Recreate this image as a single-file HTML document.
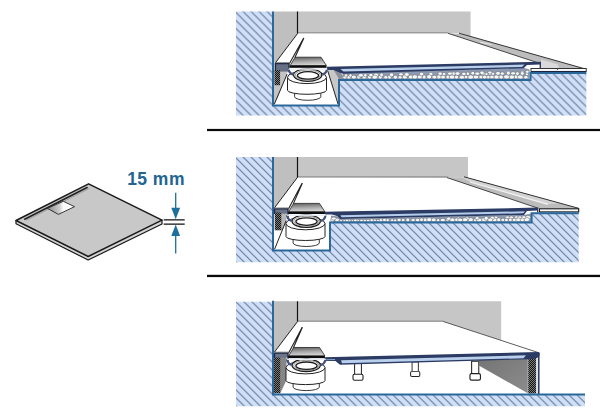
<!DOCTYPE html>
<html><head><meta charset="utf-8">
<style>
html,body{margin:0;padding:0;background:#fff;}
svg{display:block}
text{font-family:"Liberation Sans",Arial,sans-serif;font-weight:bold}
</style></head><body>
<svg width="600" height="417" viewBox="0 0 600 417">
<defs>
<pattern id="h1" width="8" height="8" patternUnits="userSpaceOnUse" patternTransform="translate(-0.4,0)">
<rect width="8" height="8" fill="#cfdff7"/>
<path d="M-1,-1 L9,9 M-1,7 L1,9 M7,-1 L9,1" stroke="#6e7f9f" stroke-width="1.2"/></pattern><pattern id="h2" width="8" height="8" patternUnits="userSpaceOnUse" patternTransform="translate(-1.9,0)">
<rect width="8" height="8" fill="#cfdff7"/>
<path d="M-1,-1 L9,9 M-1,7 L1,9 M7,-1 L9,1" stroke="#6e7f9f" stroke-width="1.2"/></pattern><pattern id="h3" width="8" height="8" patternUnits="userSpaceOnUse" patternTransform="translate(-1.8,0)">
<rect width="8" height="8" fill="#cfdff7"/>
<path d="M-1,-1 L9,9 M-1,7 L1,9 M7,-1 L9,1" stroke="#6e7f9f" stroke-width="1.2"/></pattern>
<pattern id="mesh" width="2" height="2" patternUnits="userSpaceOnUse">
<rect width="2" height="2" fill="#151515"/><circle cx="0.5" cy="0.5" r="0.45" fill="#e8e8e8"/><circle cx="1.5" cy="1.5" r="0.45" fill="#e8e8e8"/>
</pattern>
<linearGradient id="covv" x1="0" x2="0.15" y1="0" y2="1">
<stop offset="0" stop-color="#5c5c5c"/><stop offset="0.55" stop-color="#a8a8a8"/><stop offset="1" stop-color="#d6d6d6"/>
</linearGradient>
<linearGradient id="apr" x1="0" x2="1" y1="0" y2="1">
<stop offset="0" stop-color="#747474"/><stop offset="1" stop-color="#8c8c8c"/>
</linearGradient>
<linearGradient id="hole" x1="0" x2="1" y1="0" y2="0">
<stop offset="0" stop-color="#8a8a8a"/><stop offset="0.45" stop-color="#cdcdcd"/><stop offset="0.58" stop-color="#fafafa"/><stop offset="1" stop-color="#fff"/>
</linearGradient>
<g id="drain">
<path d="M294.6,90 V96.8 A13.1,3.5 0 0 0 320.8,96.8 V90 Z" fill="#fff" stroke="#222" stroke-width="0.9"/>
<path d="M287.5,77.5 V90.3 A19.5,4 0 0 0 326.5,90.3 V77.5 Z" fill="#fff" stroke="#222" stroke-width="1"/>
<ellipse cx="307" cy="77.3" rx="19.5" ry="6.3" fill="#fff" stroke="#222" stroke-width="1"/>
<ellipse cx="307.7" cy="75" rx="14.1" ry="6.3" fill="#fff" stroke="#1a1a1a" stroke-width="1.2"/>
<ellipse cx="307.8" cy="75.1" rx="12.6" ry="5.1" fill="#fff" stroke="#555" stroke-width="0.6"/>
<ellipse cx="308" cy="75.4" rx="10.6" ry="3.7" fill="#fff" stroke="#1a1a1a" stroke-width="1.3"/>
<path d="M288.8,69 v1.2 q0.8,3.4 4.6,4.6 M326.8,69 v1.2 q-0.8,3.4 -4.6,4.6" stroke="#44547c" stroke-width="2.2" fill="none"/>
<rect x="288.6" y="68.3" width="38.6" height="1.4" fill="#e8eef6"/>
<polygon points="295,57.2 321,57.2 326.4,65.6 290.2,65.6" fill="url(#covv)" stroke="#222" stroke-width="0.8" stroke-linejoin="round"/>
<rect x="289.6" y="65.5" width="36.8" height="2.3" fill="#0c0c0c"/>
</g>
<g id="foot">
<rect x="-3.4" y="0" width="6.8" height="12" fill="#fff" stroke="#222" stroke-width="1"/>
<rect x="-5" y="11" width="10" height="6" rx="1.5" fill="#fff" stroke="#222" stroke-width="1.1"/>
</g>
</defs>
<rect width="600" height="417" fill="#fff"/>
<rect x="207" y="128.9" width="393" height="2.2" fill="#0a0a0a"/>
<rect x="207" y="274.8" width="393" height="2.3" fill="#0a0a0a"/>
<g id="p1">
<polygon points="236,11.5 273,11.5 273,105.6 339,105.6 339,80 530.5,80 530.5,73 586.3,73 586.3,115.5 236,115.5" fill="url(#h1)"/>
<polygon points="273.5,11.5 297.5,11.5 297.5,33.6 275.5,62.7 273.5,62.7" fill="#bfbfbf"/>
<polygon points="297.5,11.5 470.6,11.5 470.6,36.6 461,33.3 297.5,33.3" fill="#c6c6c6"/>
<rect x="297.5" y="32.3" width="150.5" height="1" fill="#8a8a8a"/>
<line x1="297.5" y1="11.5" x2="297.5" y2="33.6" stroke="#111" stroke-width="1.2"/>
<polygon points="280,63 290,63 287,74 278,97 274,104.6 274,63" fill="#c4c4c4"/>
<polygon points="327.6,70 334,70 339,79.2 339,104 336,98" fill="#c8c8c8"/>
<polygon points="333.7,70 340,70 343.5,78.7 339,79.5" fill="#8a8f98"/>
<path d="M287.1,74.1 L274.3,104.2 M327.8,71 L338,104" stroke="#222" stroke-width="1" fill="none"/>
<!-- tile strip -->
<polygon points="448,33.3 461.8,34 585.5,69 541,69 540.5,63.6" fill="#bdbdbd"/>
<polygon points="541,59.5 558,64.5 559,68.8 541,68.8" fill="#dadada"/>
<polygon points="481,42 492,44.2 491,44.8 480,42.8" fill="#f0f0f0"/>
<line x1="459" y1="33.2" x2="585.5" y2="69" stroke="#333" stroke-width="1"/>
<line x1="448" y1="33.3" x2="540.5" y2="63.6" stroke="#333" stroke-width="0.9"/>
<rect x="531" y="68.5" width="55.2" height="2.9" fill="#fff" stroke="#222" stroke-width="0.9"/><path d="M531,71.5 H586.2" stroke="#1b2540" stroke-width="1.1"/><path d="M557.6,68.5 v1.5" stroke="#333" stroke-width="0.8"/>
<!-- mortar -->
<path d="M343,73 L523,67.5 L529.5,69.5 V79 H341 Z" fill="#8d99b0"/>
<g fill="#f6f6f4" stroke="#5f6672" stroke-width="0.5"><ellipse cx="348.8" cy="77.3" rx="2.2" ry="1.8"/><ellipse cx="404.9" cy="76.9" rx="2.5" ry="2.1"/><ellipse cx="470.7" cy="77.0" rx="3.0" ry="2.1"/><ellipse cx="463.9" cy="73.9" rx="2.3" ry="1.7"/><ellipse cx="410.8" cy="77.0" rx="2.6" ry="1.9"/><ellipse cx="430.8" cy="74.1" rx="2.2" ry="1.8"/><ellipse cx="424.1" cy="77.0" rx="2.0" ry="2.0"/><ellipse cx="525.9" cy="77.2" rx="2.2" ry="1.7"/><ellipse cx="350.5" cy="75.4" rx="1.7" ry="1.6"/><ellipse cx="414.9" cy="76.9" rx="2.7" ry="2.1"/><ellipse cx="389.6" cy="77.1" rx="2.0" ry="2.0"/><ellipse cx="466.0" cy="77.0" rx="1.9" ry="1.8"/><ellipse cx="453.4" cy="73.6" rx="2.6" ry="1.7"/><ellipse cx="516.1" cy="76.8" rx="2.1" ry="2.0"/><ellipse cx="502.2" cy="73.6" rx="2.2" ry="1.7"/><ellipse cx="457.5" cy="73.6" rx="2.5" ry="1.8"/><ellipse cx="345.0" cy="77.2" rx="2.1" ry="1.8"/><ellipse cx="461.9" cy="77.2" rx="2.7" ry="1.9"/><ellipse cx="520.2" cy="77.0" rx="2.9" ry="2.0"/><ellipse cx="406.8" cy="74.5" rx="2.4" ry="1.9"/><ellipse cx="447.9" cy="77.0" rx="2.0" ry="1.9"/><ellipse cx="353.8" cy="77.1" rx="2.5" ry="1.9"/><ellipse cx="385.8" cy="77.3" rx="2.1" ry="1.7"/><ellipse cx="496.5" cy="76.9" rx="2.8" ry="2.0"/><ellipse cx="364.3" cy="77.2" rx="2.3" ry="1.8"/><ellipse cx="481.1" cy="77.0" rx="2.3" ry="1.8"/><ellipse cx="456.5" cy="77.1" rx="2.2" ry="1.9"/><ellipse cx="358.8" cy="77.0" rx="2.0" ry="1.9"/><ellipse cx="492.9" cy="73.8" rx="1.8" ry="1.6"/><ellipse cx="483.0" cy="73.7" rx="2.5" ry="1.8"/><ellipse cx="419.8" cy="76.9" rx="2.5" ry="1.9"/><ellipse cx="489.8" cy="73.9" rx="1.8" ry="1.5"/><ellipse cx="449.9" cy="73.6" rx="2.5" ry="1.6"/><ellipse cx="346.0" cy="75.5" rx="1.6" ry="1.7"/><ellipse cx="522.2" cy="72.2" rx="1.9" ry="1.9"/><ellipse cx="380.3" cy="77.1" rx="2.1" ry="1.9"/><ellipse cx="511.9" cy="77.0" rx="2.7" ry="2.1"/><ellipse cx="488.3" cy="77.1" rx="2.6" ry="1.7"/><ellipse cx="421.6" cy="74.1" rx="2.2" ry="1.8"/><ellipse cx="395.4" cy="77.2" rx="2.2" ry="1.9"/><ellipse cx="444.0" cy="74.1" rx="1.9" ry="1.7"/><ellipse cx="381.6" cy="74.9" rx="1.8" ry="1.9"/><ellipse cx="517.4" cy="73.6" rx="1.8" ry="1.9"/><ellipse cx="440.1" cy="73.8" rx="2.2" ry="1.9"/><ellipse cx="506.6" cy="76.8" rx="3.0" ry="2.1"/><ellipse cx="498.0" cy="73.3" rx="2.3" ry="1.9"/><ellipse cx="376.0" cy="75.1" rx="2.6" ry="2.0"/><ellipse cx="391.6" cy="74.8" rx="2.1" ry="2.0"/><ellipse cx="365.3" cy="75.2" rx="1.8" ry="1.6"/><ellipse cx="374.8" cy="77.1" rx="2.8" ry="2.0"/><ellipse cx="472.8" cy="73.2" rx="2.0" ry="1.8"/><ellipse cx="452.0" cy="77.0" rx="2.8" ry="2.0"/><ellipse cx="429.2" cy="76.8" rx="2.6" ry="2.1"/><ellipse cx="442.9" cy="77.1" rx="2.6" ry="1.8"/><ellipse cx="467.9" cy="73.8" rx="1.7" ry="1.8"/><ellipse cx="522.3" cy="73.4" rx="1.9" ry="1.9"/><ellipse cx="476.0" cy="77.0" rx="2.8" ry="1.9"/><ellipse cx="438.9" cy="76.9" rx="2.2" ry="2.0"/><ellipse cx="360.8" cy="75.3" rx="2.6" ry="1.8"/><ellipse cx="527.0" cy="74.1" rx="1.7" ry="1.6"/><ellipse cx="369.5" cy="77.1" rx="2.1" ry="1.9"/><ellipse cx="489.9" cy="72.5" rx="2.1" ry="1.5"/><ellipse cx="491.9" cy="77.0" rx="2.3" ry="1.8"/><ellipse cx="482.0" cy="72.8" rx="2.2" ry="1.8"/><ellipse cx="400.1" cy="77.2" rx="2.0" ry="1.7"/><ellipse cx="501.1" cy="77.0" rx="2.2" ry="2.0"/><ellipse cx="513.1" cy="73.3" rx="2.5" ry="1.6"/><ellipse cx="527.2" cy="71.7" rx="1.8" ry="1.5"/><ellipse cx="401.0" cy="74.3" rx="2.3" ry="1.5"/><ellipse cx="484.6" cy="77.1" rx="2.3" ry="1.8"/><ellipse cx="434.4" cy="77.1" rx="2.5" ry="1.8"/><ellipse cx="508.3" cy="73.1" rx="2.0" ry="2.0"/><ellipse cx="477.3" cy="73.6" rx="2.5" ry="1.7"/><ellipse cx="370.9" cy="75.1" rx="2.2" ry="1.7"/><ellipse cx="486.5" cy="74.0" rx="1.6" ry="1.5"/></g>
<!-- tray -->
<polygon points="326.7,66.7 541,61.8 541,68.6 539.6,68.6 539.6,64.6 527,64.9 523.5,68.2 343,73.7 340,72.8 333.6,70 326.7,70" fill="#2b3b64"/>
<polygon points="340.5,69.1 524.5,64.6 522,66.9 343.5,71.5" fill="#b9d0ec"/>
<path d="M273,11.5 V105.6 H339 V80 H530.5 V73 H586.3" fill="none" stroke="#2a689c" stroke-width="2"/>
<path d="M297.5,33.6 L275.5,62.7" stroke="#222" stroke-width="1"/>
<path d="M303.7,38 L289.6,63.2 M303.9,38 L294.9,57.4" stroke="#222" stroke-width="1.1"/>
<rect x="275.5" y="63.4" width="13.5" height="8.2" fill="#666f84"/><path d="M275.5,71 V63.6 H289 V71.6" fill="none" stroke="#1b2745" stroke-width="1.3"/><path d="M275.5,62.7 H289.5" stroke="#555" stroke-width="0.8"/>
<rect x="274.5" y="70" width="5.6" height="15.2" fill="url(#mesh)"/>
<use href="#drain"/>
</g>
<g id="p2">
<polygon points="236,157 273,157 273,250.6 330,250.6 330,222.5 532,222.5 532,213.3 578.7,213.3 578.7,262.2 236,262.2" fill="url(#h2)"/>
<polygon points="273.5,157 297.7,157 297.7,177 274.5,207.8 273.5,207.8" fill="#bfbfbf"/>
<polygon points="297.5,157 468,157 468,177.8 297.5,177.3" fill="#c6c6c6"/>
<rect x="297.5" y="176.5" width="150" height="0.9" fill="#777"/>
<line x1="297.5" y1="157" x2="297.5" y2="177.2" stroke="#111" stroke-width="1.2"/>
<polygon points="281,208.5 288.5,208.5 286,221 282.4,230.4 281,230.4" fill="#b8b8b8"/>
<path d="M286.2,220.5 L274.5,249.4" stroke="#222" stroke-width="1" fill="none"/>
<!-- tile strip -->
<polygon points="447,177.5 468,177.8 578.7,208.3 538.4,208.3" fill="#bcbcbc"/>
<polygon points="462,177.7 468,177.8 560,203.2 548,204.3 470,182" fill="#d3d3d3"/>
<line x1="464" y1="176.8" x2="578.7" y2="208.3" stroke="#333" stroke-width="1"/>
<line x1="447" y1="177.6" x2="538.4" y2="208.3" stroke="#333" stroke-width="0.9"/>
<line x1="470" y1="182" x2="548" y2="204.3" stroke="#f4f4f4" stroke-width="1.3"/>
<rect x="539.4" y="208.8" width="39.3" height="3.1" fill="#fff" stroke="#111" stroke-width="1.1"/>
<!-- mortar -->
<path d="M331,215.5 L337,216.2 L340,219 L524,215 L531,213.5 V222 H331 Z" fill="#8d99b0"/>
<g fill="#f6f6f4" stroke="#5f6672" stroke-width="0.5"><ellipse cx="337.0" cy="219.9" rx="2.3" ry="1.9"/><ellipse cx="332.5" cy="220.1" rx="1.9" ry="1.8"/><ellipse cx="333.7" cy="218.6" rx="2.5" ry="1.5"/></g>
<g fill="#f6f6f4" stroke="#5f6672" stroke-width="0.5"><ellipse cx="516.7" cy="217.4" rx="2.2" ry="1.6"/><ellipse cx="378.1" cy="220.5" rx="1.5" ry="1.3"/><ellipse cx="357.9" cy="220.4" rx="1.3" ry="1.3"/><ellipse cx="384.7" cy="220.0" rx="2.4" ry="1.6"/><ellipse cx="425.3" cy="219.9" rx="2.1" ry="2.0"/><ellipse cx="413.1" cy="220.1" rx="2.1" ry="1.6"/><ellipse cx="374.8" cy="220.3" rx="1.5" ry="1.3"/><ellipse cx="495.8" cy="217.9" rx="2.2" ry="1.8"/><ellipse cx="507.6" cy="217.4" rx="2.3" ry="1.4"/><ellipse cx="470.4" cy="219.7" rx="2.9" ry="2.0"/><ellipse cx="438.1" cy="220.2" rx="1.7" ry="1.7"/><ellipse cx="484.4" cy="219.8" rx="3.0" ry="2.0"/><ellipse cx="380.9" cy="220.2" rx="1.8" ry="1.6"/><ellipse cx="355.3" cy="220.4" rx="1.8" ry="1.3"/><ellipse cx="514.7" cy="220.0" rx="2.7" ry="1.8"/><ellipse cx="417.7" cy="220.1" rx="2.3" ry="1.8"/><ellipse cx="494.6" cy="219.9" rx="2.6" ry="1.9"/><ellipse cx="371.7" cy="220.2" rx="1.8" ry="1.5"/><ellipse cx="511.3" cy="217.4" rx="2.2" ry="1.5"/><ellipse cx="433.7" cy="219.9" rx="2.4" ry="1.9"/><ellipse cx="458.3" cy="218.7" rx="2.1" ry="1.6"/><ellipse cx="352.3" cy="220.6" rx="1.2" ry="1.1"/><ellipse cx="492.2" cy="218.0" rx="2.2" ry="1.8"/><ellipse cx="349.4" cy="220.5" rx="1.5" ry="1.2"/><ellipse cx="421.6" cy="219.8" rx="1.9" ry="1.8"/><ellipse cx="447.5" cy="220.0" rx="1.9" ry="1.7"/><ellipse cx="528.0" cy="217.4" rx="2.9" ry="1.9"/><ellipse cx="392.1" cy="220.2" rx="1.6" ry="1.5"/><ellipse cx="475.3" cy="220.1" rx="1.9" ry="1.7"/><ellipse cx="526.5" cy="219.6" rx="3.1" ry="2.1"/><ellipse cx="467.0" cy="218.6" rx="2.1" ry="1.8"/><ellipse cx="456.5" cy="219.8" rx="2.2" ry="1.8"/><ellipse cx="502.9" cy="219.9" rx="2.0" ry="1.7"/><ellipse cx="519.9" cy="217.4" rx="2.6" ry="1.5"/><ellipse cx="479.0" cy="219.9" rx="2.8" ry="2.0"/><ellipse cx="523.8" cy="217.3" rx="2.1" ry="1.6"/><ellipse cx="510.3" cy="219.9" rx="1.9" ry="1.8"/><ellipse cx="498.7" cy="219.8" rx="2.0" ry="2.0"/><ellipse cx="490.2" cy="219.9" rx="2.6" ry="1.9"/><ellipse cx="506.4" cy="220.0" rx="2.0" ry="1.7"/><ellipse cx="395.1" cy="220.4" rx="1.7" ry="1.5"/><ellipse cx="465.0" cy="219.8" rx="2.7" ry="2.0"/><ellipse cx="460.2" cy="220.0" rx="2.6" ry="1.8"/><ellipse cx="518.5" cy="219.8" rx="2.9" ry="1.9"/><ellipse cx="341.0" cy="220.7" rx="1.6" ry="1.1"/><ellipse cx="429.2" cy="219.7" rx="2.5" ry="2.1"/><ellipse cx="364.8" cy="220.6" rx="1.6" ry="1.3"/><ellipse cx="346.9" cy="220.5" rx="1.8" ry="1.3"/><ellipse cx="522.3" cy="219.9" rx="2.1" ry="1.9"/><ellipse cx="387.7" cy="220.2" rx="1.6" ry="1.6"/><ellipse cx="442.8" cy="220.1" rx="2.6" ry="1.7"/><ellipse cx="477.1" cy="218.1" rx="2.1" ry="1.6"/><ellipse cx="486.2" cy="218.3" rx="2.0" ry="2.0"/><ellipse cx="361.5" cy="220.5" rx="1.8" ry="1.2"/><ellipse cx="344.2" cy="220.7" rx="1.2" ry="1.2"/><ellipse cx="448.9" cy="218.8" rx="2.4" ry="1.7"/><ellipse cx="368.1" cy="220.6" rx="1.7" ry="1.3"/><ellipse cx="399.1" cy="220.1" rx="2.1" ry="1.8"/><ellipse cx="452.4" cy="219.9" rx="2.6" ry="1.9"/><ellipse cx="403.2" cy="220.1" rx="1.8" ry="1.7"/><ellipse cx="407.8" cy="220.0" rx="1.9" ry="1.9"/></g>
<!-- tray -->
<polygon points="324.7,211.8 538.2,207.6 538.2,212.4 537,212.4 537,210.6 527,210.9 524,214.9 340,218.9 337,216 332,214.4 324.7,214.4" fill="#2b3b64"/>
<polygon points="340.5,215.2 525,211.3 523.2,213.3 341.5,217.3" fill="#b4cdea"/>
<path d="M273,157 V250.6 H330 V222.6 H531.6 V213.2 H578.7" fill="none" stroke="#2a689c" stroke-width="2"/>
<path d="M297.7,177 L274.5,207.8" stroke="#222" stroke-width="1"/>
<path d="M302.2,183.1 L288.6,208.8 M302.4,183.1 L293.4,203.6" stroke="#222" stroke-width="1.1"/>
<rect x="274.5" y="208.7" width="13.5" height="5" fill="#6b7488"/><path d="M274.5,214 V208.9 H288 V219" fill="none" stroke="#1b2745" stroke-width="1.3"/><path d="M274.5,208 H288.5" stroke="#555" stroke-width="0.8"/>
<rect x="274.7" y="212.5" width="6.6" height="17.8" fill="url(#mesh)"/>
<use href="#drain" transform="translate(-1.5,146.2)"/>
</g>
<g id="p3">
<polygon points="236,301.7 273,301.7 273,394.5 585,394.5 585,406.2 236,406.2" fill="url(#h3)"/>
<polygon points="273.5,301.3 297.7,301.3 297.7,321.3 274.5,352 273.5,352" fill="#bfbfbf"/>
<polygon points="297.5,301.3 501.2,301.3 501.2,340.2 443.3,321.5 297.5,321.5" fill="#c6c6c6"/>
<rect x="297.5" y="320.7" width="146" height="0.9" fill="#777"/>
<line x1="297.5" y1="301.3" x2="297.5" y2="321.4" stroke="#111" stroke-width="1.2"/>
<line x1="443.3" y1="321.5" x2="539" y2="352.8" stroke="#333" stroke-width="0.8"/>
<!-- left bracket -->
<polygon points="280,353 286.5,353 286.5,380 280.2,393.5" fill="#868686"/>
<rect x="274" y="354.8" width="6.3" height="38.6" fill="url(#mesh)"/>
<!-- feet -->
<use href="#foot" transform="translate(358,363.2)"/>
<use href="#foot" transform="translate(415.2,362) scale(0.92,0.85)"/>
<use href="#foot" transform="translate(475.2,361.2) scale(1.05,1.12)"/>
<!-- apron right -->
<polygon points="478.8,359 527.8,357.4 527.8,393.2 478.8,365.5" fill="url(#apr)"/>
<rect x="528.2" y="357" width="8" height="36.5" fill="url(#mesh)"/>
<line x1="538.7" y1="353" x2="538.7" y2="394" stroke="#2b3b64" stroke-width="1.7"/>
<!-- tray -->
<polygon points="324.5,357.2 538,352.1 539.6,352.6 539.6,355.4 537,358 530,359.2 340,364.8 335.5,361 324.5,361" fill="#2b3b64"/>
<polygon points="341,360.2 526,355.3 523.5,358.2 342,363.2" fill="#b9d0ec"/>
<polygon points="325.5,359.2 335,358.9 335,359.9 325.5,360.2" fill="#8fa6c8"/>
<path d="M273,300.8 V394.5 H585" fill="none" stroke="#2a689c" stroke-width="2"/>
<path d="M297.7,321.3 L274.5,352" stroke="#222" stroke-width="1"/>
<path d="M302.2,327.3 L288.6,353 M302.4,327.3 L293.4,347.8" stroke="#222" stroke-width="1.1"/>
<rect x="274.5" y="352.9" width="13.5" height="4.6" fill="#6b7488"/><path d="M274.5,358 V353.1 H288 V362" fill="none" stroke="#1b2745" stroke-width="1.3"/><path d="M274.5,352.2 H288.5" stroke="#555" stroke-width="0.8"/>
<use href="#drain" transform="translate(-1.5,290.3)"/>
</g>
<g id="icon">
<path d="M16,220.5 V223.8 L88.2,260 L162,224 V220.2 Z" fill="#d4d4d4" stroke="#1a1a1a" stroke-width="1.2" stroke-linejoin="round"/>
<polygon points="16,220.5 88.6,183.8 162,220.2 88.2,256.5" fill="#c8c8c8" stroke="#1a1a1a" stroke-width="1.5" stroke-linejoin="round"/>
<path d="M24.2,219.4 L87.6,187.2" stroke="#222" stroke-width="1.7"/>
<path d="M26.5,220.2 L89,188.6" stroke="#888" stroke-width="0.7"/>
<polygon points="47.3,208.3 63.4,201.3 74.5,206.7 58.4,214.4" fill="url(#hole)" stroke="#222" stroke-width="0.9"/>
<path d="M163.7,219.8 H184.7 M163.7,224.1 H184.7" stroke="#111" stroke-width="1.2"/>
<path d="M175.7,192.7 V210 M175.7,234 V253.4" stroke="#1f6f9e" stroke-width="1.3"/>
<polygon points="171.3,207.8 180.1,207.8 175.7,219.2" fill="#1f6f9e"/>
<polygon points="171.3,236 180.1,236 175.7,224.6" fill="#1f6f9e"/>
<text x="127.2" y="185.4" font-size="17.5" letter-spacing="0.45" fill="#22658f">15 mm</text>
</g>
</svg>
</body></html>
